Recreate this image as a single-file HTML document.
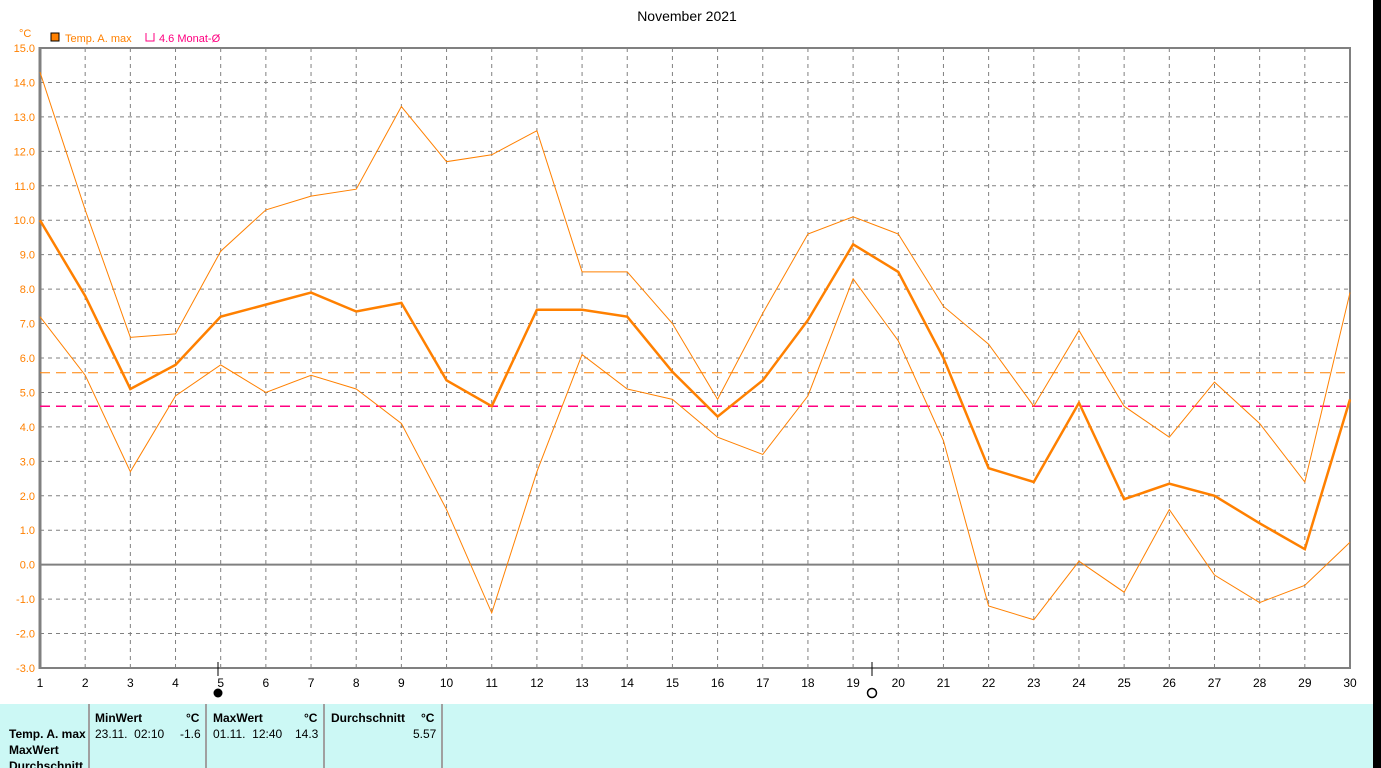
<!DOCTYPE html>
<html><head><meta charset="utf-8"><style>
html,body{margin:0;width:1381px;height:768px;background:#000;overflow:hidden;position:relative;font-family:"Liberation Sans",sans-serif}
#wh{position:absolute;left:0;top:0;width:1373px;height:704px;background:#fff}
#tbl{position:absolute;left:0;top:704px;width:1373px;height:64px;background:#ccf8f5;font-size:12px;color:#000}
.s{position:absolute;top:0;width:2px;height:64px;background:#a0a0a0}
.t{position:absolute;white-space:nowrap}
.b{font-weight:bold}
</style></head><body>
<div id="wh"></div>
<svg id="c" width="1373" height="704" style="position:absolute;left:0;top:0" font-family="Liberation Sans, sans-serif"></svg>
<div id="tbl">
<div class="s" style="left:88px"></div><div class="s" style="left:205px"></div><div class="s" style="left:323px"></div><div class="s" style="left:441px"></div>
<div class="t b" style="left:95px;top:7px">MinWert</div><div class="t b" style="left:186px;top:7px">°C</div>
<div class="t b" style="left:213px;top:7px">MaxWert</div><div class="t b" style="left:304px;top:7px">°C</div>
<div class="t b" style="left:331px;top:7px">Durchschnitt</div><div class="t b" style="left:421px;top:7px">°C</div>
<div class="t b" style="left:9px;top:23px">Temp. A. max</div>
<div class="t" style="left:95px;top:23px">23.11.&nbsp; 02:10</div><div class="t" style="left:180px;top:23px">-1.6</div>
<div class="t" style="left:213px;top:23px">01.11.&nbsp; 12:40</div><div class="t" style="left:295px;top:23px">14.3</div>
<div class="t" style="left:413px;top:23px">5.57</div>
<div class="t b" style="left:9px;top:39px">MaxWert</div>
<div class="t b" style="left:9px;top:55px">Durchschnitt</div>
</div>
<script>
const X=d=>40+(d-1)*1310/29, Y=v=>48+(15-v)*620/18;
let s='';
s+='<text x="687" y="21" font-size="14" text-anchor="middle">November 2021</text>';
s+='<text x="19" y="37" font-size="11" fill="#ff8000">°C</text>';
s+='<rect x="51" y="33" width="8" height="8" fill="#ff8000" stroke="#000"/><text x="65" y="42" font-size="11" fill="#ff8000">Temp. A. max</text>';
s+='<path d="M146 33v8h8v-8" fill="none" stroke="#ff0080"/><text x="159" y="42" font-size="11" fill="#ff0080">4.6 Monat-Ø</text>';
for(let v=-3;v<=15;v++){const y=Y(v);
 if(v>-3&&v<15&&v!=0)s+=`<line x1="40" x2="1350" y1="${y}" y2="${y}" stroke="#808080" stroke-dasharray="4,4"/>`;
 s+=`<text x="35" y="${y+4}" font-size="11" fill="#ff8000" text-anchor="end">${v.toFixed(1)}</text>`;}
for(let d=1;d<=30;d++){const x=X(d);
 if(d>1&&d<30)s+=`<line x1="${x}" x2="${x}" y1="48" y2="668" stroke="#808080" stroke-dasharray="4,4"/>`;
 s+=`<text x="${x}" y="687" font-size="12" text-anchor="middle">${d}</text>`;}
s+=`<line x1="40" x2="1350" y1="${Y(0)}" y2="${Y(0)}" stroke="#808080" stroke-width="2"/>`;
s+=`<rect x="40" y="48" width="1310" height="620" fill="none" stroke="#808080" stroke-width="2"/>`;
s+=`<line x1="40" x2="40" y1="47" y2="669" stroke="#808080" stroke-width="3"/>`;
s+=`<line x1="40" x2="1345" y1="${Y(5.57)}" y2="${Y(5.57)}" stroke="#ff8000" stroke-dasharray="10,6"/>`;
s+=`<line x1="40" x2="1350" y1="${Y(4.6)}" y2="${Y(4.6)}" stroke="#ff0080" stroke-width="1.5" stroke-dasharray="10,6"/>`;
const hi=[14.3,10.3,6.6,6.7,9.1,10.3,10.7,10.9,13.3,11.7,11.9,12.6,8.5,8.5,7.0,4.8,7.3,9.6,10.1,9.6,7.5,6.4,4.6,6.8,4.6,3.7,5.3,4.1,2.4,7.9];
const md=[10.0,7.8,5.1,5.8,7.2,7.55,7.9,7.35,7.6,5.35,4.6,7.4,7.4,7.2,5.6,4.3,5.35,7.1,9.3,8.5,6.0,2.8,2.4,4.7,1.9,2.35,2.0,1.2,0.45,4.8];
const lo=[7.2,5.5,2.7,4.9,5.8,5.0,5.5,5.1,4.1,1.6,-1.4,2.7,6.1,5.1,4.8,3.7,3.2,4.9,8.3,6.5,3.6,-1.2,-1.6,0.1,-0.8,1.6,-0.3,-1.1,-0.6,0.65];
const pl=(a,w)=>`<polyline fill="none" stroke="#ff8000" stroke-width="${w}" points="${a.map((v,i)=>X(i+1)+','+Y(v)).join(' ')}"/>`;
s+=pl(hi,1)+pl(lo,1)+pl(md,2.5);
s+=`<line x1="218" x2="218" y1="662" y2="676" stroke="#000"/><circle cx="218" cy="693" r="4.5" fill="#000"/>`;
s+=`<line x1="872" x2="872" y1="662" y2="676" stroke="#000"/><circle cx="872" cy="693" r="4.5" fill="none" stroke="#000" stroke-width="1.5"/>`;
document.getElementById('c').innerHTML=s;
</script>
</body></html>
